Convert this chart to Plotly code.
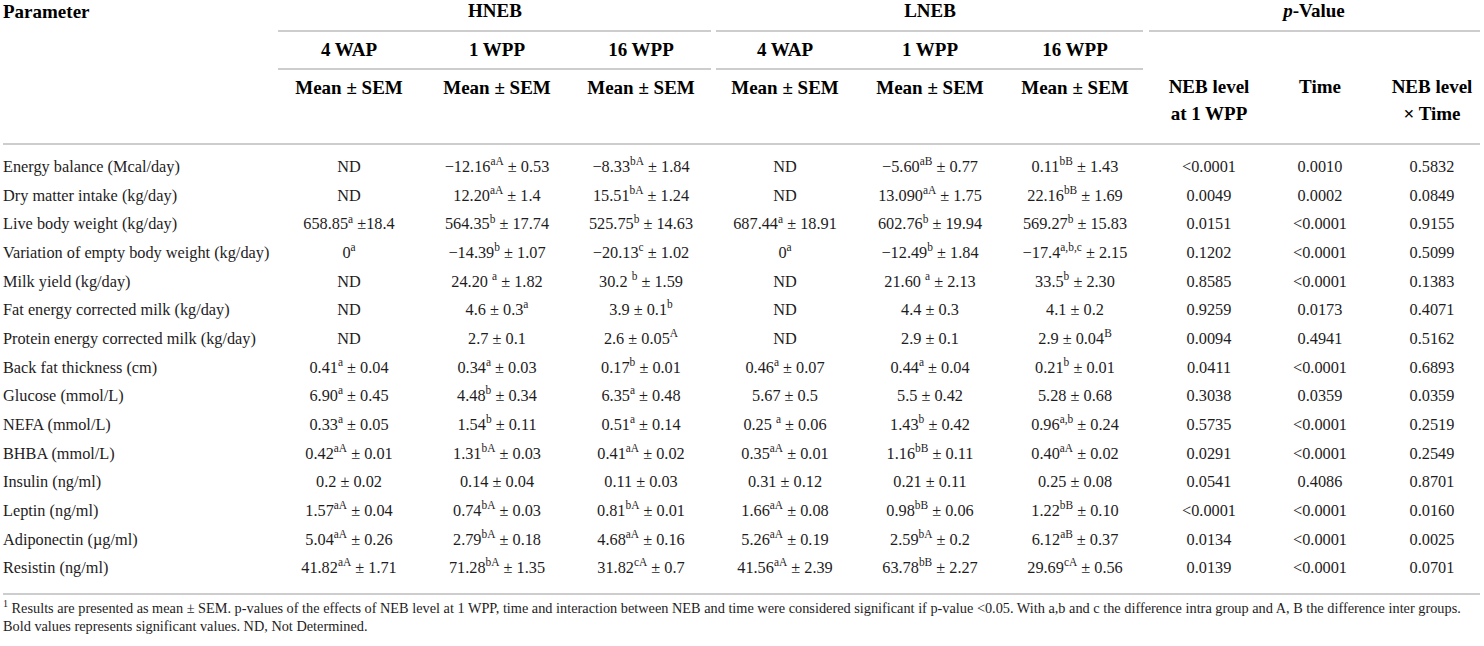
import plotly.graph_objects as go

# table content, row by row
parameters = [
    "Energy balance (Mcal/day)",
    "Dry matter intake (kg/day)",
    "Live body weight (kg/day)",
    "Variation of empty body weight (kg/day)",
    "Milk yield (kg/day)",
    "Fat energy corrected milk (kg/day)",
    "Protein energy corrected milk (kg/day)",
    "Back fat thickness (cm)",
    "Glucose (mmol/L)",
    "NEFA (mmol/L)",
    "BHBA (mmol/L)",
    "Insulin (ng/ml)",
    "Leptin (ng/ml)",
    "Adiponectin (µg/ml)",
    "Resistin (ng/ml)",
]

hneb_4wap = [
    "ND", "ND", "658.85<sup>a</sup> ±18.4", "0<sup>a</sup>", "ND", "ND", "ND",
    "0.41<sup>a</sup> ± 0.04", "6.90<sup>a</sup> ± 0.45", "0.33<sup>a</sup> ± 0.05",
    "0.42<sup>aA</sup> ± 0.01", "0.2 ± 0.02", "1.57<sup>aA</sup> ± 0.04",
    "5.04<sup>aA</sup> ± 0.26", "41.82<sup>aA</sup> ± 1.71",
]
hneb_1wpp = [
    "−12.16<sup>aA</sup> ± 0.53", "12.20<sup>aA</sup> ± 1.4", "564.35<sup>b</sup> ± 17.74",
    "−14.39<sup>b</sup> ± 1.07", "24.20 <sup>a</sup> ± 1.82", "4.6 ± 0.3<sup>a</sup>",
    "2.7 ± 0.1", "0.34<sup>a</sup> ± 0.03", "4.48<sup>b</sup> ± 0.34",
    "1.54<sup>b</sup> ± 0.11", "1.31<sup>bA</sup> ± 0.03", "0.14 ± 0.04",
    "0.74<sup>bA</sup> ± 0.03", "2.79<sup>bA</sup> ± 0.18", "71.28<sup>bA</sup> ± 1.35",
]
hneb_16wpp = [
    "−8.33<sup>bA</sup> ± 1.84", "15.51<sup>bA</sup> ± 1.24", "525.75<sup>b</sup> ± 14.63",
    "−20.13<sup>c</sup> ± 1.02", "30.2 <sup>b</sup> ± 1.59", "3.9 ± 0.1<sup>b</sup>",
    "2.6 ± 0.05<sup>A</sup>", "0.17<sup>b</sup> ± 0.01", "6.35<sup>a</sup> ± 0.48",
    "0.51<sup>a</sup> ± 0.14", "0.41<sup>aA</sup> ± 0.02", "0.11 ± 0.03",
    "0.81<sup>bA</sup> ± 0.01", "4.68<sup>aA</sup> ± 0.16", "31.82<sup>cA</sup> ± 0.7",
]
lneb_4wap = [
    "ND", "ND", "687.44<sup>a</sup> ± 18.91", "0<sup>a</sup>", "ND", "ND", "ND",
    "0.46<sup>a</sup> ± 0.07", "5.67 ± 0.5", "0.25 <sup>a</sup> ± 0.06",
    "0.35<sup>aA</sup> ± 0.01", "0.31 ± 0.12", "1.66<sup>aA</sup> ± 0.08",
    "5.26<sup>aA</sup> ± 0.19", "41.56<sup>aA</sup> ± 2.39",
]
lneb_1wpp = [
    "−5.60<sup>aB</sup> ± 0.77", "13.090<sup>aA</sup> ± 1.75", "602.76<sup>b</sup> ± 19.94",
    "−12.49<sup>b</sup> ± 1.84", "21.60 <sup>a</sup> ± 2.13", "4.4 ± 0.3",
    "2.9 ± 0.1", "0.44<sup>a</sup> ± 0.04", "5.5 ± 0.42",
    "1.43<sup>b</sup> ± 0.42", "1.16<sup>bB</sup> ± 0.11", "0.21 ± 0.11",
    "0.98<sup>bB</sup> ± 0.06", "2.59<sup>bA</sup> ± 0.2", "63.78<sup>bB</sup> ± 2.27",
]
lneb_16wpp = [
    "0.11<sup>bB</sup> ± 1.43", "22.16<sup>bB</sup> ± 1.69", "569.27<sup>b</sup> ± 15.83",
    "−17.4<sup>a,b,c</sup> ± 2.15", "33.5<sup>b</sup> ± 2.30", "4.1 ± 0.2",
    "2.9 ± 0.04<sup>B</sup>", "0.21<sup>b</sup> ± 0.01", "5.28 ± 0.68",
    "0.96<sup>a,b</sup> ± 0.24", "0.40<sup>aA</sup> ± 0.02", "0.25 ± 0.08",
    "1.22<sup>bB</sup> ± 0.10", "6.12<sup>aB</sup> ± 0.37", "29.69<sup>cA</sup> ± 0.56",
]
p_neb_level = [
    "&lt;0.0001", "0.0049", "0.0151", "0.1202", "0.8585", "0.9259", "0.0094", "0.0411",
    "0.3038", "0.5735", "0.0291", "0.0541", "&lt;0.0001", "0.0134", "0.0139",
]
p_time = [
    "0.0010", "0.0002", "&lt;0.0001", "&lt;0.0001", "&lt;0.0001", "0.0173", "0.4941",
    "&lt;0.0001", "0.0359", "&lt;0.0001", "&lt;0.0001", "0.4086", "&lt;0.0001",
    "&lt;0.0001", "&lt;0.0001",
]
p_interaction = [
    "0.5832", "0.0849", "0.9155", "0.5099", "0.1383", "0.4071", "0.5162", "0.6893",
    "0.0359", "0.2519", "0.2549", "0.8701", "0.0160", "0.0025", "0.0701",
]

groups = ["HNEB", "LNEB", "<i>p</i>-Value"]
timepoints = ["4 WAP", "1 WPP", "16 WPP"]
footnote = [
    "<sup>1</sup> Results are presented as mean ± SEM. p-values of the effects of NEB level at 1 WPP, "
    "time and interaction between NEB and time were considered significant if p-value &lt;0.05. "
    "With a,b and c the difference intra group and A, B the difference inter groups.",
    "Bold values represents significant values. ND, Not Determined.",
]

# layout (pixel space)
W, H = 1484, 646
FONT = "Liberation Serif"
INK = "#1e1c1d"
RULE = "#cdcdcd"
BODY, HEAD, FOOT = 16.3, 19, 14.3
row_top, row_step = 168, 28.65
col_x = [349, 497, 641, 785, 930, 1075, 1209, 1320, 1432]
rows_y = [row_top + i * row_step for i in range(len(parameters))]

fig = go.Figure()


def text_trace(xs, ys, texts, pos="middle center", size=BODY, color=INK):
    fig.add_trace(go.Scatter(
        x=xs, y=ys, text=texts, mode="text", textposition=pos,
        textfont=dict(family=FONT, size=size, color=color),
        hoverinfo="skip", showlegend=False, cliponaxis=False,
    ))


# body
text_trace([3] * len(parameters), rows_y, parameters, pos="middle right")
columns = [hneb_4wap, hneb_1wpp, hneb_16wpp, lneb_4wap, lneb_1wpp, lneb_16wpp,
           p_neb_level, p_time, p_interaction]
for cx, col in zip(col_x, columns):
    text_trace([cx] * len(col), rows_y, col)

# header
bold = lambda t: f"<b>{t}</b>"
hd = dict(size=HEAD, color="#000")
text_trace([3], [13], [bold("Parameter")], pos="middle right", **hd)
text_trace([495, 930, 1314], [12] * 3, [bold(g) for g in groups], **hd)
text_trace(col_x[:6], [51] * 6, [bold(t) for t in timepoints * 2], **hd)
text_trace(col_x[:6], [89] * 6, [bold("Mean ± SEM")] * 6, **hd)
text_trace(col_x[6:], [88] * 3, [bold("NEB level"), bold("Time"), bold("NEB level")], **hd)
text_trace([col_x[6], col_x[8]], [115] * 2, [bold("at 1 WPP"), bold("× Time")], **hd)

# footnote
text_trace([3] * len(footnote), [609 + i * 18 for i in range(len(footnote))], footnote,
           pos="middle right", size=FOOT)

# horizontal rules
rules = [(278, 711, 31), (716, 1143, 31), (1149, 1480, 31),
         (278, 711, 69), (716, 1143, 69), (3, 1480, 144), (3, 1480, 594)]
for x0, x1, y in rules:
    fig.add_shape(type="line", x0=x0, x1=x1, y0=y, y1=y, xref="x", yref="y",
                  line=dict(color=RULE, width=2))

fig.update_xaxes(range=[0, W], visible=False, fixedrange=True)
fig.update_yaxes(range=[H, 0], visible=False, fixedrange=True)
fig.update_layout(
    width=W, height=H, margin=dict(l=0, r=0, t=0, b=0),
    font=dict(family=FONT, size=BODY, color=INK),
    paper_bgcolor="white", plot_bgcolor="white",
)

fig.write_html("out.html", config={"displayModeBar": False},
               post_script="document.body.style.margin='0';")
